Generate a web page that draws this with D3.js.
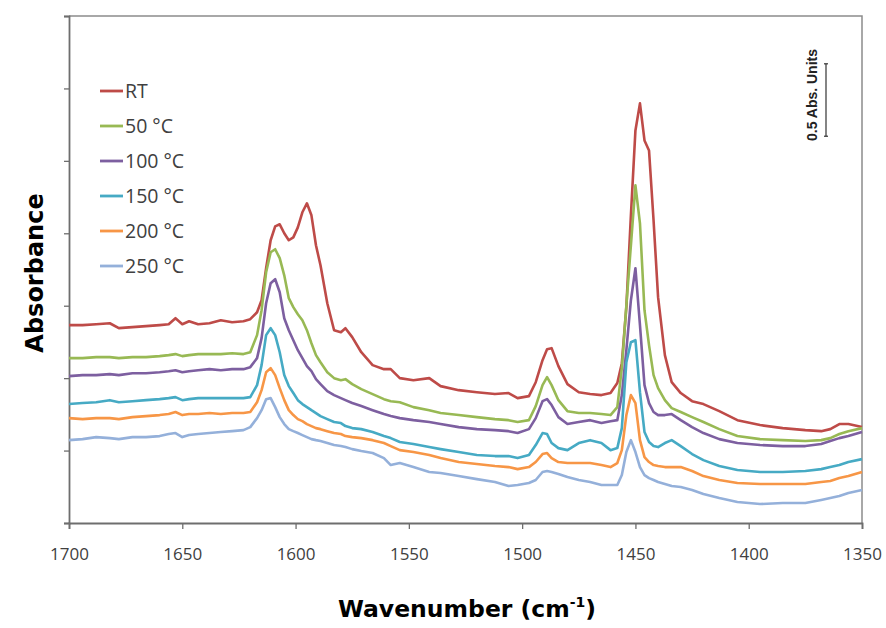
<!DOCTYPE html>
<html><head><meta charset="utf-8">
<script src="https://cdn.jsdelivr.net/npm/d3@7"></script>
<style>html,body{margin:0;padding:0;background:#fff;}</style>
</head><body>
<script>
const wavenumbers = [1700,1694,1688,1682,1678,1672,1666,1660,1656,1653,1650,1647,1643,1638,1633,1628,1623,1620,1617,1615,1613,1611,1609,1607,1605,1603,1601,1599,1597,1595,1593,1591,1589,1586,1583,1580,1578,1575,1571,1566,1561,1558,1554,1548,1541,1536,1528,1520,1512,1506,1502,1497,1494,1491,1489,1487,1484,1480,1475,1470,1465,1461,1458,1456,1454,1452,1450,1448,1446,1444,1442,1440,1437,1434,1430,1425,1420,1413,1405,1395,1385,1375,1368,1364,1360,1356,1350];

const rtValues = [1.366,1.366,1.372,1.379,1.345,1.352,1.359,1.366,1.372,1.414,
1.372,1.393,1.372,1.379,1.400,1.386,1.393,1.407,1.455,1.538,
1.759,1.952,2.048,2.062,2.000,1.952,1.972,2.041,2.145,2.207,
2.124,1.917,1.779,1.517,1.331,1.317,1.345,1.283,1.179,1.090,
1.062,1.062,1.000,0.986,1.000,0.945,0.917,0.903,0.890,0.897,
0.862,0.876,0.972,1.124,1.200,1.207,1.083,0.959,0.903,0.890,
0.883,0.897,0.966,1.103,1.490,2.124,2.710,2.897,2.641,2.572,
2.090,1.559,1.159,0.972,0.897,0.841,0.821,0.772,0.710,0.676,
0.655,0.641,0.634,0.648,0.683,0.683,0.662];

const c50Values = [1.138,1.138,1.145,1.145,1.138,1.145,1.145,1.152,1.159,1.166,
1.152,1.159,1.166,1.166,1.166,1.172,1.166,1.179,1.297,1.469,
1.731,1.869,1.890,1.828,1.710,1.552,1.490,1.441,1.400,1.331,
1.241,1.159,1.110,1.041,1.000,0.986,0.993,0.959,0.924,0.890,
0.855,0.841,0.834,0.800,0.779,0.759,0.745,0.731,0.717,0.710,
0.697,0.710,0.807,0.952,1.007,0.952,0.848,0.772,0.759,0.759,
0.752,0.745,0.800,1.069,1.503,1.917,2.331,2.069,1.469,1.228,
1.021,0.931,0.848,0.793,0.766,0.731,0.697,0.648,0.600,0.579,
0.572,0.566,0.572,0.586,0.614,0.634,0.655];

const c100Values = [1.014,1.021,1.021,1.028,1.021,1.034,1.034,1.041,1.048,1.055,
1.041,1.048,1.055,1.062,1.055,1.062,1.062,1.076,1.138,1.276,
1.517,1.655,1.683,1.593,1.414,1.331,1.262,1.193,1.138,1.083,
1.048,0.993,0.959,0.910,0.883,0.862,0.848,0.828,0.807,0.779,
0.752,0.738,0.724,0.710,0.697,0.683,0.662,0.648,0.641,0.634,
0.621,0.648,0.724,0.841,0.855,0.814,0.731,0.683,0.697,0.710,
0.690,0.703,0.710,0.883,1.193,1.538,1.759,1.366,0.952,0.828,
0.766,0.745,0.745,0.752,0.710,0.662,0.621,0.579,0.552,0.538,
0.531,0.531,0.545,0.566,0.586,0.600,0.628];

const c150Values = [0.821,0.828,0.834,0.848,0.834,0.841,0.848,0.855,0.862,0.869,
0.848,0.855,0.862,0.862,0.862,0.862,0.862,0.869,0.952,1.090,
1.297,1.345,1.297,1.179,1.021,0.945,0.897,0.848,0.821,0.800,
0.779,0.759,0.738,0.717,0.697,0.690,0.669,0.655,0.648,0.628,
0.600,0.586,0.559,0.545,0.524,0.510,0.490,0.469,0.462,0.462,
0.448,0.469,0.538,0.621,0.614,0.552,0.517,0.503,0.552,0.572,
0.552,0.503,0.517,0.655,1.110,1.248,1.262,0.903,0.628,0.559,
0.531,0.524,0.552,0.572,0.531,0.476,0.434,0.393,0.366,0.352,
0.352,0.359,0.372,0.386,0.400,0.421,0.441];

const c200Values = [0.724,0.717,0.724,0.724,0.717,0.731,0.738,0.745,0.752,0.766,
0.745,0.752,0.752,0.759,0.752,0.759,0.759,0.766,0.834,0.917,
1.041,1.069,1.021,0.931,0.848,0.779,0.745,0.717,0.703,0.683,
0.669,0.655,0.648,0.634,0.621,0.614,0.600,0.593,0.586,0.572,
0.552,0.531,0.503,0.490,0.469,0.448,0.421,0.407,0.393,0.386,
0.372,0.386,0.421,0.476,0.483,0.448,0.421,0.414,0.414,0.414,
0.400,0.386,0.414,0.503,0.745,0.883,0.828,0.572,0.455,0.421,
0.400,0.393,0.386,0.386,0.386,0.359,0.324,0.297,0.276,0.269,
0.269,0.269,0.283,0.290,0.310,0.324,0.352];

const c250Values = [0.572,0.579,0.593,0.586,0.579,0.593,0.593,0.600,0.614,0.621,
0.593,0.607,0.614,0.621,0.628,0.634,0.641,0.662,0.724,0.779,
0.855,0.862,0.800,0.731,0.683,0.648,0.634,0.621,0.607,0.593,
0.579,0.572,0.566,0.552,0.538,0.531,0.524,0.510,0.497,0.483,
0.448,0.400,0.414,0.386,0.352,0.345,0.324,0.303,0.283,0.255,
0.262,0.276,0.297,0.352,0.359,0.352,0.338,0.317,0.297,0.283,
0.262,0.262,0.262,0.331,0.490,0.572,0.490,0.386,0.331,0.310,
0.297,0.283,0.269,0.255,0.248,0.228,0.200,0.172,0.145,0.131,
0.138,0.138,0.159,0.172,0.186,0.207,0.228];

const seriesNames = ["RT","50 °C","100 °C","150 °C","200 °C","250 °C"];
const seriesColors = ["#BE4B48","#98B954","#7D5FA0","#46AAC4","#F79646","#94B0DA"];
const seriesValues = [rtValues,c50Values,c100Values,c150Values,c200Values,c250Values];
const xTicks = [1700,1650,1600,1550,1500,1450,1400,1350];
const yTicks = [0,0.5,1,1.5,2,2.5,3,3.5];
const scaleBar = {top:3.17, length:0.5, label:"0.5 Abs. Units"};

const W = 886, H = 628;
const m = {left:69, right:862, top:16, bottom:523};

const svg = d3.select("body").append("svg").attr("width",W).attr("height",H)
  .style("font-family","'Open Sans', 'Liberation Sans', sans-serif");

const x = d3.scaleLinear().domain([1700,1350]).range([m.left,m.right]);
const y = d3.scaleLinear().domain([0,3.5]).range([m.bottom,m.top]);

// frame (top & right)
svg.append("path").attr("d",`M${m.left},${m.top}H${m.right}V${m.bottom}`)
  .attr("fill","none").attr("stroke","#8c8c8c").attr("stroke-width",1.5);

// x axis
const xAxis = svg.append("g").attr("transform",`translate(0,${m.bottom})`)
  .call(d3.axisBottom(x).tickValues(xTicks).tickSize(6).tickPadding(19).tickFormat(d3.format("d")));
xAxis.select(".domain").attr("stroke","#6e6e6e").attr("stroke-width",1.8);
xAxis.selectAll(".tick line").attr("stroke","#6e6e6e").attr("stroke-width",1.3);
xAxis.selectAll(".tick text").attr("fill","#404040").style("font-size","17px")
  .style("font-family","'Open Sans', sans-serif");

// y axis
const yAxis = svg.append("g").attr("transform",`translate(${m.left},0)`)
  .call(d3.axisLeft(y).tickValues(yTicks).tickSize(5).tickFormat(""));
yAxis.select(".domain").attr("stroke","#6e6e6e").attr("stroke-width",1.8);
yAxis.selectAll(".tick line").attr("stroke","#6e6e6e").attr("stroke-width",1.3);

// lines
const line = d3.line().x(d=>x(d[0])).y(d=>y(d[1]));
seriesValues.forEach((vals,i)=>{
  const pts = wavenumbers.map((w,j)=>[w,vals[j]]);
  svg.append("path").datum(pts).attr("d",line).attr("fill","none")
    .attr("stroke",seriesColors[i]).attr("stroke-width",2.6)
    .attr("stroke-linejoin","round");
});

// legend
const lg = svg.append("g");
seriesNames.forEach((n,i)=>{
  const yy = 91 + i*35;
  lg.append("line").attr("x1",100).attr("x2",123).attr("y1",yy).attr("y2",yy)
    .attr("stroke",seriesColors[i]).attr("stroke-width",2.8);
  lg.append("text").attr("x",125).attr("y",yy).attr("dy","0.36em")
    .attr("fill","#404040").style("font-size","19.5px").text(n);
});

// scale bar
const sbx = 826;
const sb = svg.append("g").attr("stroke","#333").attr("stroke-width",1.2);
sb.append("line").attr("x1",sbx).attr("x2",sbx).attr("y1",y(scaleBar.top)).attr("y2",y(scaleBar.top-scaleBar.length));
sb.append("line").attr("x1",sbx-2).attr("x2",sbx+2).attr("y1",y(scaleBar.top)).attr("y2",y(scaleBar.top));
sb.append("line").attr("x1",sbx-2).attr("x2",sbx+2).attr("y1",y(scaleBar.top-scaleBar.length)).attr("y2",y(scaleBar.top-scaleBar.length));
svg.append("text").attr("transform",`translate(817,${(y(scaleBar.top)+y(scaleBar.top-scaleBar.length))/2 - 5}) rotate(-90)`)
  .attr("text-anchor","middle").attr("fill","#222").style("font-size","14px").style("font-weight","bold")
  .style("font-family","'Liberation Sans', sans-serif").text(scaleBar.label);

// axis titles
svg.append("text").attr("transform","translate(43,273) rotate(-90)").attr("text-anchor","middle")
  .style("font-family","'DejaVu Sans', sans-serif").style("font-weight","bold").style("font-size","24px")
  .attr("fill","#000").text("Absorbance");
const xt = svg.append("text").attr("x",467).attr("y",617).attr("text-anchor","middle")
  .style("font-family","'DejaVu Sans', sans-serif").style("font-weight","bold").style("font-size","23.5px")
  .attr("fill","#000");
xt.append("tspan").text("Wavenumber (cm");
xt.append("tspan").attr("dy","-10").style("font-size","14px").text("-1");
xt.append("tspan").attr("dy","10").text(")");
</script>
</body></html>
